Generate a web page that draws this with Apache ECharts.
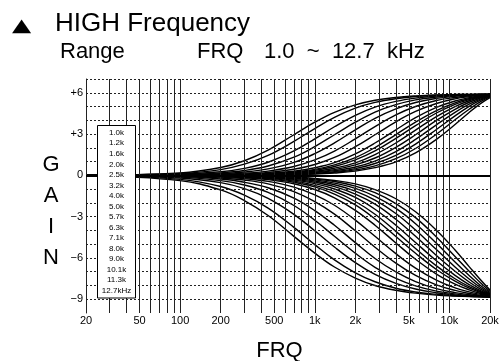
<!DOCTYPE html>
<html>
<head>
<meta charset="utf-8">
<script src="https://cdn.jsdelivr.net/npm/echarts@6.0.0/dist/echarts.min.js"></script>
<style>
  html, body { margin: 0; padding: 0; background: #fff; }
  #chart { width: 501px; height: 361px; }
</style>
</head>
<body>
<div id="chart"></div>
<script>
  // FRQ settings listed in the box
  var fcLabels = ['1.0k', '1.2k', '1.6k', '2.0k', '2.5k', '3.2k', '4.0k', '5.0k',
    '5.7k', '6.3k', '7.1k', '8.0k', '9.0k', '10.1k', '11.3k', '12.7kHz'];

  var freqs = [20, 100, 200, 300, 450, 700, 1000, 1400, 2000, 2800, 4000, 5600, 8000, 11000, 14000, 17000, 20000];

  // boost curves (dB), one row per FRQ setting
  var boostGain = [
    [0, 0.18, 0.57, 1.06, 1.83, 2.95, 3.86, 4.58, 5.12, 5.46, 5.66, 5.77, 5.84, 5.87, 5.88, 5.89, 5.90],
    [0, 0.13, 0.42, 0.81, 1.45, 2.47, 3.40, 4.21, 4.88, 5.30, 5.57, 5.72, 5.82, 5.86, 5.88, 5.89, 5.90],
    [0, 0.08, 0.26, 0.51, 0.95, 1.77, 2.65, 3.53, 4.36, 4.96, 5.37, 5.61, 5.76, 5.83, 5.86, 5.88, 5.89],
    [0, 0.05, 0.18, 0.35, 0.68, 1.32, 2.09, 2.95, 3.86, 4.60, 5.14, 5.48, 5.69, 5.80, 5.85, 5.87, 5.89],
    [0, 0.04, 0.12, 0.24, 0.47, 0.94, 1.58, 2.36, 3.30, 4.14, 4.83, 5.29, 5.59, 5.75, 5.83, 5.86, 5.89],
    [0, 0.02, 0.08, 0.16, 0.31, 0.64, 1.12, 1.76, 2.65, 3.54, 4.39, 5.00, 5.44, 5.66, 5.78, 5.85, 5.88],
    [0, 0.01, 0.05, 0.10, 0.21, 0.44, 0.79, 1.30, 2.08, 2.95, 3.89, 4.64, 5.22, 5.56, 5.72, 5.82, 5.87],
    [0, 0.01, 0.04, 0.07, 0.14, 0.30, 0.55, 0.92, 1.56, 2.35, 3.31, 4.19, 4.94, 5.40, 5.64, 5.78, 5.86],
    [0, 0.01, 0.03, 0.05, 0.11, 0.24, 0.43, 0.76, 1.29, 2.02, 2.96, 3.87, 4.71, 5.27, 5.57, 5.75, 5.85],
    [0, 0.00, 0.02, 0.04, 0.09, 0.20, 0.37, 0.64, 1.12, 1.77, 2.68, 3.61, 4.53, 5.16, 5.51, 5.71, 5.84],
    [0, 0.00, 0.02, 0.04, 0.07, 0.16, 0.30, 0.52, 0.91, 1.51, 2.35, 3.29, 4.27, 5.00, 5.42, 5.67, 5.82],
    [0, 0.00, 0.01, 0.03, 0.06, 0.13, 0.24, 0.42, 0.76, 1.26, 2.04, 2.95, 3.99, 4.80, 5.31, 5.61, 5.80],
    [0, 0.00, 0.01, 0.02, 0.05, 0.10, 0.19, 0.34, 0.61, 1.04, 1.73, 2.61, 3.67, 4.58, 5.17, 5.54, 5.78],
    [0, 0.00, 0.01, 0.02, 0.04, 0.08, 0.15, 0.27, 0.49, 0.86, 1.46, 2.27, 3.33, 4.32, 5.01, 5.46, 5.74],
    [0, 0.00, 0.00, 0.01, 0.03, 0.06, 0.12, 0.22, 0.40, 0.69, 1.21, 1.95, 2.99, 4.04, 4.80, 5.35, 5.70],
    [0, 0.00, 0.00, 0.01, 0.02, 0.05, 0.09, 0.17, 0.31, 0.56, 0.98, 1.63, 2.61, 3.69, 4.57, 5.21, 5.64]
  ];

  // cut curves (dB)
  var cutGain = [
    [0, -0.38, -1.06, -1.83, -2.92, -4.43, -5.65, -6.66, -7.46, -8.00, -8.35, -8.56, -8.70, -8.77, -8.81, -8.83, -8.84],
    [0, -0.29, -0.81, -1.44, -2.38, -3.78, -5.03, -6.14, -7.08, -7.73, -8.20, -8.47, -8.64, -8.75, -8.79, -8.82, -8.84],
    [0, -0.19, -0.53, -0.96, -1.67, -2.83, -4.03, -5.21, -6.34, -7.20, -7.85, -8.26, -8.53, -8.69, -8.76, -8.80, -8.83],
    [0, -0.13, -0.38, -0.70, -1.24, -2.19, -3.26, -4.43, -5.66, -6.68, -7.49, -8.03, -8.41, -8.61, -8.73, -8.79, -8.83],
    [0, -0.09, -0.27, -0.50, -0.90, -1.65, -2.56, -3.63, -4.89, -6.04, -7.02, -7.72, -8.23, -8.52, -8.67, -8.76, -8.81],
    [0, -0.06, -0.19, -0.34, -0.62, -1.18, -1.91, -2.82, -4.03, -5.22, -6.38, -7.27, -7.96, -8.36, -8.58, -8.72, -8.80],
    [0, -0.04, -0.13, -0.24, -0.44, -0.85, -1.42, -2.17, -3.25, -4.43, -5.69, -6.74, -7.61, -8.17, -8.47, -8.65, -8.78],
    [0, -0.03, -0.09, -0.17, -0.31, -0.61, -1.03, -1.63, -2.54, -3.62, -4.91, -6.10, -7.17, -7.90, -8.32, -8.58, -8.75],
    [0, -0.02, -0.07, -0.13, -0.26, -0.50, -0.84, -1.37, -2.15, -3.17, -4.44, -5.66, -6.84, -7.69, -8.20, -8.51, -8.72],
    [0, -0.02, -0.06, -0.12, -0.22, -0.42, -0.73, -1.17, -1.90, -2.83, -4.07, -5.31, -6.58, -7.51, -8.09, -8.45, -8.70],
    [0, -0.01, -0.05, -0.10, -0.18, -0.35, -0.60, -0.99, -1.60, -2.46, -3.62, -4.88, -6.21, -7.27, -7.94, -8.37, -8.66],
    [0, -0.01, -0.04, -0.08, -0.14, -0.29, -0.50, -0.82, -1.36, -2.09, -3.19, -4.43, -5.82, -6.97, -7.75, -8.27, -8.62],
    [0, -0.01, -0.03, -0.06, -0.12, -0.24, -0.41, -0.68, -1.14, -1.80, -2.77, -3.97, -5.39, -6.66, -7.53, -8.15, -8.57],
    [0, -0.01, -0.02, -0.05, -0.10, -0.20, -0.33, -0.56, -0.94, -1.52, -2.40, -3.51, -4.94, -6.29, -7.27, -8.00, -8.51],
    [0, 0.00, -0.02, -0.04, -0.08, -0.15, -0.27, -0.45, -0.78, -1.26, -2.05, -3.07, -4.48, -5.89, -6.97, -7.81, -8.43],
    [0, 0.00, -0.01, -0.03, -0.06, -0.13, -0.22, -0.37, -0.62, -1.04, -1.70, -2.64, -3.98, -5.42, -6.63, -7.59, -8.33]
  ];

  // axis labels
  var xTickValues = [20, 50, 100, 200, 500, 1000, 2000, 5000, 10000, 20000];
  var xTickLabels = ['20', '50', '100', '200', '500', '1k', '2k', '5k', '10k', '20k'];
  var yTickValues = [6, 3, 0, -3, -6, -9];
  var yTickLabels = ['+6', '+3', '0', '\u22123', '\u22126', '\u22129'];

  // grid lines
  var gridFreqs = [30, 40, 50, 60, 70, 80, 90, 100, 200, 300, 400, 500, 600, 700, 800, 900,
    1000, 2000, 3000, 4000, 5000, 6000, 7000, 8000, 9000, 10000, 20000];
  var gridDb = [7, 6, 5, 4, 3, 2, 1, -1, -2, -3, -4, -5, -6, -7, -8, -9];

  var FONT = '"Liberation Sans", Arial, Helvetica, sans-serif';

  var chart = echarts.init(document.getElementById('chart'));

  function toPoints(gains) {
    return freqs.map(function (f, i) {
      return [f, gains[i]];
    });
  }

  var series = [];

  // vertical grid + x labels
  series.push({
    type: 'line', data: [], silent: true, animation: false,
    markLine: {
      silent: true, animation: false, symbol: ['none', 'none'],
      lineStyle: {color: '#222', width: 1, type: 'solid'},
      label: {show: false},
      data: gridFreqs.map(function (f) {
        return {xAxis: f};
      })
    }
  });
  series.push({
    type: 'line', data: [], silent: true, animation: false,
    markLine: {
      silent: true, animation: false, symbol: ['none', 'none'],
      lineStyle: {color: '#222', width: 1, type: 'solid'},
      label: {
        show: true, position: 'start', distance: 2,
        color: '#000', fontSize: 11, fontFamily: FONT
      },
      data: xTickValues.map(function (f, i) {
        return {xAxis: f, label: {formatter: xTickLabels[i]}};
      })
    }
  });
  // dotted dB lines
  series.push({
    type: 'line', data: [], silent: true, animation: false,
    markLine: {
      silent: true, animation: false, symbol: ['none', 'none'],
      lineStyle: {color: '#222', width: 1, type: [2, 2]},
      label: {show: false},
      data: gridDb.map(function (d) {
        return {yAxis: d};
      })
    }
  });

  //curves
  boostGain.forEach(function (g, i) {
    series.push({
      name: 'boost ' + fcLabels[i], type: 'line', data: toPoints(g),
      showSymbol: false, smooth: 0.4, silent: true, animation: false,
      lineStyle: {color: '#000', width: 1.4}
    });
  });
  cutGain.forEach(function (g, i) {
    series.push({
      name: 'cut ' + fcLabels[i], type: 'line', data: toPoints(g),
      showSymbol: false, smooth: 0.4, silent: true, animation: false,
      lineStyle: {color: '#000', width: 1.4}
    });
  });

  // 0 dB line
  series.push({
    type: 'line', data: [], silent: true, animation: false,
    markLine: {
      silent: true, animation: false, symbol: ['none', 'none'],
      lineStyle: {color: '#000', width: 2, type: 'solid'},
      label: {show: false},
      data: [{yAxis: 0}]
    }
  });

  chart.setOption({
    backgroundColor: '#fff',
    animation: false,
    grid: {left: 86, right: 11, top: 79, bottom: 48},
    xAxis: {
      type: 'log', logBase: 10, min: 20, max: 20000,
      axisLine: {show: false}, axisTick: {show: false},
      axisLabel: {show: false}, splitLine: {show: false}
    },
    yAxis: {
      type: 'value', min: -10, max: 7, interval: 1,
      axisLine: {show: true, lineStyle: {color: '#222', width: 1}},
      axisTick: {show: false},
      splitLine: {show: false},
      axisLabel: {
        color: '#000', fontSize: 11, fontFamily: FONT, margin: 3,
        formatter: function (v) {
          var k = yTickValues.indexOf(v);
          return k >= 0 ? yTickLabels[k] : '';
        }
      }
    },
    graphic: [
      {type: 'text', x: 12, y: 26, scaleY: 0.72, originX: 0, originY: 0, z: 100,
        style: {text: '\u25B2', fontSize: 25, fontFamily: 'DejaVu Sans', fill: '#000',
          textVerticalAlign: 'middle'}},
      {type: 'text', x: 55, y: 23.5, z: 100,
        style: {text: 'HIGH Frequency', fontSize: 26, fontFamily: FONT, fill: '#000', textVerticalAlign: 'middle'}},
      {type: 'text', x: 60, y: 52, z: 100,
        style: {text: 'Range', fontSize: 22, fontFamily: FONT, fill: '#000', textVerticalAlign: 'middle'}},
      {type: 'text', x: 197, y: 52, z: 100,
        style: {text: 'FRQ', fontSize: 22, fontFamily: FONT, fill: '#000', textVerticalAlign: 'middle'}},
      {type: 'text', x: 264, y: 52, z: 100,
        style: {text: '1.0  ~  12.7  kHz', fontSize: 22, fontFamily: FONT, fill: '#000', textVerticalAlign: 'middle'}},
      {type: 'text', x: 51, y: 211.5, z: 100,
        style: {text: 'G\nA\nI\nN', fontSize: 22, lineHeight: 31, fontFamily: FONT, fill: '#000',
          textAlign: 'center', textVerticalAlign: 'middle'}},
      {type: 'text', x: 279.5, y: 350.5, z: 100,
        style: {text: 'FRQ', fontSize: 22, fontFamily: FONT, fill: '#000',
          textAlign: 'center', textVerticalAlign: 'middle'}},
      {type: 'rect', z: 100,
        shape: {x: 97.5, y: 125.5, width: 38, height: 172.5},
        style: {fill: '#fff', stroke: '#000', lineWidth: 1}},
      {type: 'text', x: 116.5, y: 211.7, z: 101,
        style: {text: fcLabels.join('\n'), fontSize: 8, lineHeight: 10.53, fontFamily: FONT, fill: '#000',
          textAlign: 'center', textVerticalAlign: 'middle'}}
    ],
    series: series
  });
</script>
</body>
</html>
